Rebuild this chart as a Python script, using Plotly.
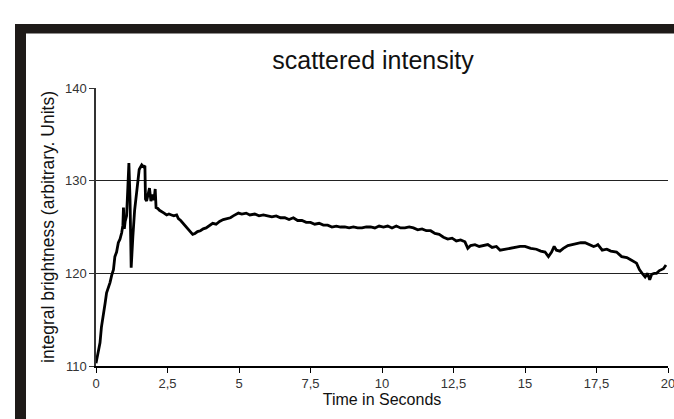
import plotly.graph_objects as go

# time (s) and integral brightness
time_s = [0.0, 0.07, 0.14, 0.19, 0.23, 0.27, 0.32, 0.37, 0.43, 0.49, 0.55, 0.61, 0.66, 0.72, 0.78, 0.84, 0.90,
          0.94, 0.96, 0.99, 1.02, 1.07, 1.11, 1.15, 1.19, 1.23, 1.29, 1.35, 1.42, 1.51, 1.60, 1.66, 1.71,
          1.73, 1.77, 1.82, 1.87, 1.92, 1.98, 2.03, 2.07, 2.10, 2.16, 2.22, 2.30, 2.38, 2.47, 2.55, 2.64,
          2.72, 2.82, 2.88, 2.96, 3.05, 3.15, 3.29, 3.38, 3.46, 3.55, 3.65, 3.75, 3.85, 3.95, 4.08, 4.2,
          4.32, 4.45, 4.58, 4.7, 4.80, 4.9, 4.98, 5.1, 5.25, 5.38, 5.55, 5.7, 5.85, 6.0, 6.15, 6.3, 6.45,
          6.6, 6.75, 6.9, 7.05, 7.2, 7.35, 7.5, 7.65, 7.8, 7.95, 8.1, 8.25, 8.4, 8.55, 8.7, 8.85, 9.0,
          9.15, 9.3, 9.45, 9.6, 9.75, 9.9, 10.05, 10.2, 10.35, 10.5, 10.65, 10.8, 10.95, 11.1, 11.25,
          11.4, 11.55, 11.7, 11.85, 12.0, 12.15, 12.3, 12.45, 12.6, 12.75, 12.9, 13.0, 13.1, 13.25,
          13.4, 13.55, 13.7, 13.85, 14.0, 14.13, 14.3, 14.5, 14.65, 14.83, 15.0, 15.2, 15.4, 15.55,
          15.7, 15.82, 15.93, 16.02, 16.1, 16.22, 16.34, 16.5, 16.65, 16.8, 16.95, 17.1, 17.27, 17.4,
          17.5, 17.55, 17.7, 17.86, 18.0, 18.2, 18.38, 18.56, 18.68, 18.79, 18.9, 19.0, 19.06, 19.12,
          19.2, 19.29, 19.36, 19.43, 19.52, 19.6, 19.7, 19.78, 19.84, 19.93]
brightness = [110.3, 111.5, 112.5, 114.2, 115.0, 115.3, 116.8, 117.9, 118.4, 119.0, 119.8, 120.4, 121.8, 122.3,
              123.3, 123.7, 124.4, 125.2, 127.1, 124.8, 125.6, 126.2, 129.0, 131.9, 128.0, 120.6, 124.0,
              126.8, 128.7, 131.2, 131.7, 131.5, 131.6, 128.0, 127.8, 128.4, 129.2, 127.8, 128.5, 127.9,
              129.1, 127.1, 127.0, 126.8, 126.6, 126.5, 126.3, 126.4, 126.3, 126.2, 126.3, 125.9, 125.7,
              125.4, 125.0, 124.5, 124.2, 124.3, 124.5, 124.6, 124.8, 124.9, 125.1, 125.4, 125.3, 125.6,
              125.8, 125.9, 126.0, 126.2, 126.4, 126.5, 126.4, 126.5, 126.3, 126.4, 126.2, 126.3, 126.2,
              126.1, 126.2, 126.0, 126.0, 125.8, 126.0, 125.7, 125.7, 125.5, 125.5, 125.3, 125.4, 125.2,
              125.2, 125.0, 125.1, 125.0, 125.0, 124.9, 125.0, 124.9, 124.9, 125.0, 125.0, 124.9, 125.1,
              125.0, 125.1, 124.9, 125.1, 124.9, 124.9, 125.0, 124.9, 124.7, 124.8, 124.6, 124.6, 124.3,
              124.2, 123.9, 123.7, 123.8, 123.5, 123.6, 123.4, 122.7, 123.0, 123.1, 122.9, 123.0, 123.1,
              122.8, 122.9, 122.5, 122.6, 122.7, 122.8, 122.9, 122.9, 122.7, 122.6, 122.4, 122.3, 121.8,
              122.3, 122.9, 122.5, 122.4, 122.7, 123.0, 123.1, 123.2, 123.3, 123.3, 123.1, 122.9, 123.0,
              123.1, 122.5, 122.6, 122.4, 122.3, 121.8, 121.7, 121.5, 121.3, 121.1, 120.4, 120.2, 119.9,
              119.6, 120.0, 119.3, 119.9, 120.0, 120.0, 120.3, 120.4, 120.5, 120.9, 120.7]

x_tick_vals = [0, 2.5, 5, 7.5, 10, 12.5, 15, 17.5, 20]
x_tick_text = ["0", "2,5", "5", "7,5", "10", "12,5", "15", "17,5", "20"]
y_tick_vals = [110, 120, 130, 140]

W, H = 674, 419
L, R, T, B = 96, 6, 88, 53
pw, ph = W - L - R, H - T - B

def px(xp):
    return (xp - L) / pw

def py(yp):
    return (H - B - yp) / ph

fig = go.Figure()
fig.add_trace(go.Scatter(x=time_s, y=brightness, mode="lines",
                         line=dict(color="black", width=2.8), showlegend=False))

border = "#1e1a18"
fig.add_shape(type="rect", xref="paper", yref="paper", x0=px(15), x1=px(676), y0=py(33.5), y1=py(24),
              fillcolor=border, line_width=0, layer="above")
fig.add_shape(type="rect", xref="paper", yref="paper", x0=px(15), x1=px(26), y0=py(421), y1=py(24),
              fillcolor=border, line_width=0, layer="above")

fig.update_layout(
    width=W, height=H,
    margin=dict(l=L, r=R, t=T, b=B, autoexpand=False),
    paper_bgcolor="white", plot_bgcolor="white",
    font=dict(family="Liberation Sans, Arial, sans-serif", color="#222"),
    title=dict(text="scattered intensity", xref="container", x=373 / W, xanchor="center",
               y=1 - 60 / H, yanchor="middle", font=dict(size=25, color="#111")),
    xaxis=dict(range=[0, 20], tickvals=x_tick_vals, ticktext=x_tick_text, showgrid=False, zeroline=False,
               showline=True, linecolor="black", linewidth=1.5, ticks="outside", ticklen=5, tickcolor="black",
               tickfont=dict(size=13, color="#333"), ticklabeloverflow="allow", automargin=False,
               title=dict(text="Time in Seconds", font=dict(size=16, color="#111"), standoff=3)),
    yaxis=dict(range=[110, 140], tickvals=y_tick_vals, showgrid=True, gridcolor="#222", gridwidth=1,
               zeroline=False, showline=True, linecolor="#333", linewidth=1.5, ticks="outside", ticklen=5,
               tickcolor="#333", tickfont=dict(size=13, color="#333"), automargin=False,
               title=dict(text="integral brightness (arbitrary. Units)", font=dict(size=17.5, color="#111"),
                          standoff=6)),
)

fig.write_html("out.html", config={"displayModeBar": False},
               post_script="document.body.style.margin='0';")
